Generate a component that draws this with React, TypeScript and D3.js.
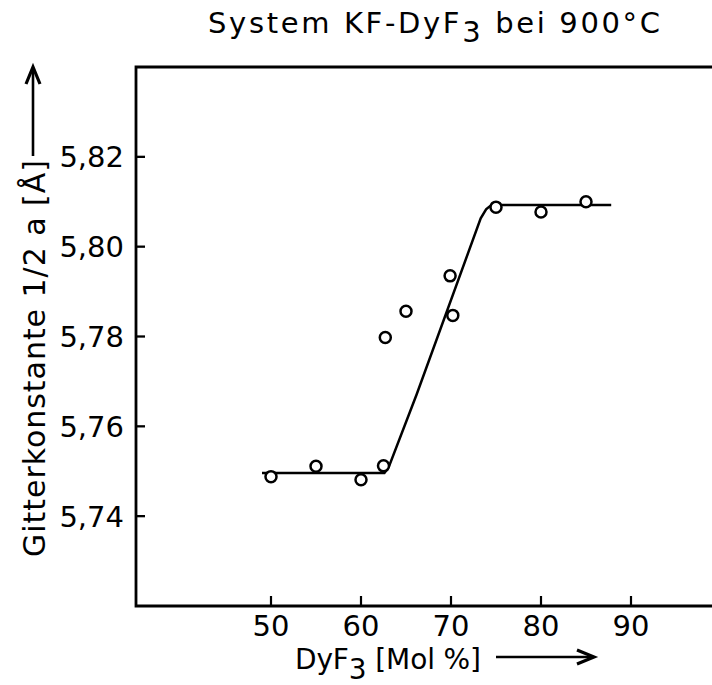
import React from "react";
import * as d3 from "d3";

// measured data points: DyF3 [Mol %] vs lattice constant 1/2 a [Å]
const pointX = [50, 55, 60, 62.5, 62.7, 65, 69.9, 70.2, 75, 80, 85];
const pointY = [5.7488, 5.7511, 5.7481, 5.7512, 5.7798, 5.7856, 5.7935, 5.7847, 5.8088, 5.8077, 5.81];

// hand-drawn fit line
const fitX = [49, 62.6, 63.1, 66.2, 73.3, 73.9, 74.5, 87.8];
const fitY = [5.7496, 5.7496, 5.751, 5.7672, 5.8063, 5.8083, 5.8093, 5.8093];

const xTicks = [50, 60, 70, 80, 90];
const yTicks = [5.74, 5.76, 5.78, 5.8, 5.82];

const W = 712;
const H = 685;
const FONT = "'DejaVu Sans', 'Liberation Sans', Arial, sans-serif";

export default function App() {
  const x = d3.scaleLinear().domain([35, 100]).range([136, 721]);
  const y = d3.scaleLinear().domain([5.72, 5.84]).range([606, 67]);
  const fmt = (v: number) => d3.format(".2f")(v).replace(".", ",");

  const fitData = fitX.map((v, i) => [v, fitY[i]] as [number, number]);
  const line = d3
    .line<[number, number]>()
    .x((d) => x(d[0]))
    .y((d) => y(d[1]));

  const x0 = x.range()[0];
  const x1 = x.range()[1];
  const yTop = y.range()[1];
  const yBot = y.range()[0];

  return (
    <svg
      width={W}
      height={H}
      style={{ position: "absolute", left: 0, top: 0, background: "#fff" }}
      fontFamily={FONT}
    >
      <rect x={0} y={0} width={W} height={H} fill="#fff" />
      {/* title */}
      <text x={208} y={33} fontSize={29} fill="#000" textLength={452} lengthAdjust="spacing">
        System KF-DyF
        <tspan dy={9}>3</tspan>
        <tspan dy={-9}> bei 900°C</tspan>
      </text>

      {/* frame */}
      <path
        d={`M${x1},${yTop} L${x0},${yTop} L${x0},${yBot} L${x1},${yBot}`}
        fill="none"
        stroke="#000"
        strokeWidth={2.8}
      />

      {/* y ticks */}
      {yTicks.map((t) => (
        <g key={"y" + t}>
          <line x1={x0} x2={x0 + 9} y1={y(t)} y2={y(t)} stroke="#000" strokeWidth={2.3} />
          <text x={124} y={y(t) + 10.5} textAnchor="end" fontSize={29} fill="#000">
            {fmt(t)}
          </text>
        </g>
      ))}

      {/* x ticks */}
      {xTicks.map((t) => (
        <g key={"x" + t}>
          <line x1={x(t)} x2={x(t)} y1={yBot} y2={yBot - 10} stroke="#000" strokeWidth={2.2} />
          <text x={x(t)} y={636} textAnchor="middle" fontSize={29} fill="#000">
            {t}
          </text>
        </g>
      ))}

      {/* y axis title */}
      <text
        transform="translate(45,557) rotate(-90)"
        fontSize={30}
        fill="#000"
        textLength={397}
        lengthAdjust="spacing"
      >
        Gitterkonstante 1/2 a [Å]
      </text>
      <line x1={33} x2={33} y1={156} y2={68} stroke="#000" strokeWidth={2.6} />
      <polyline points="26,84 33,67 40,84" fill="none" stroke="#000" strokeWidth={3.2} />

      {/* x axis title */}
      <text x={295} y={669} fontSize={28} fill="#000" textLength={186} lengthAdjust="spacing">
        DyF
        <tspan dy={10}>3</tspan>
        <tspan dy={-10}> [Mol %]</tspan>
      </text>
      <line x1={496} x2={592} y1={657} y2={657} stroke="#000" strokeWidth={2.6} />
      <polyline points="577,650 594,657 577,664" fill="none" stroke="#000" strokeWidth={3.2} />

      {/* fit line */}
      <path d={line(fitData) || ""} fill="none" stroke="#000" strokeWidth={2.5} />

      {/* points */}
      {pointX.map((v, i) => (
        <circle
          key={"p" + i}
          cx={x(v)}
          cy={y(pointY[i])}
          r={5.5}
          fill="#fff"
          stroke="#000"
          strokeWidth={2.5}
        />
      ))}
    </svg>
  );
}
